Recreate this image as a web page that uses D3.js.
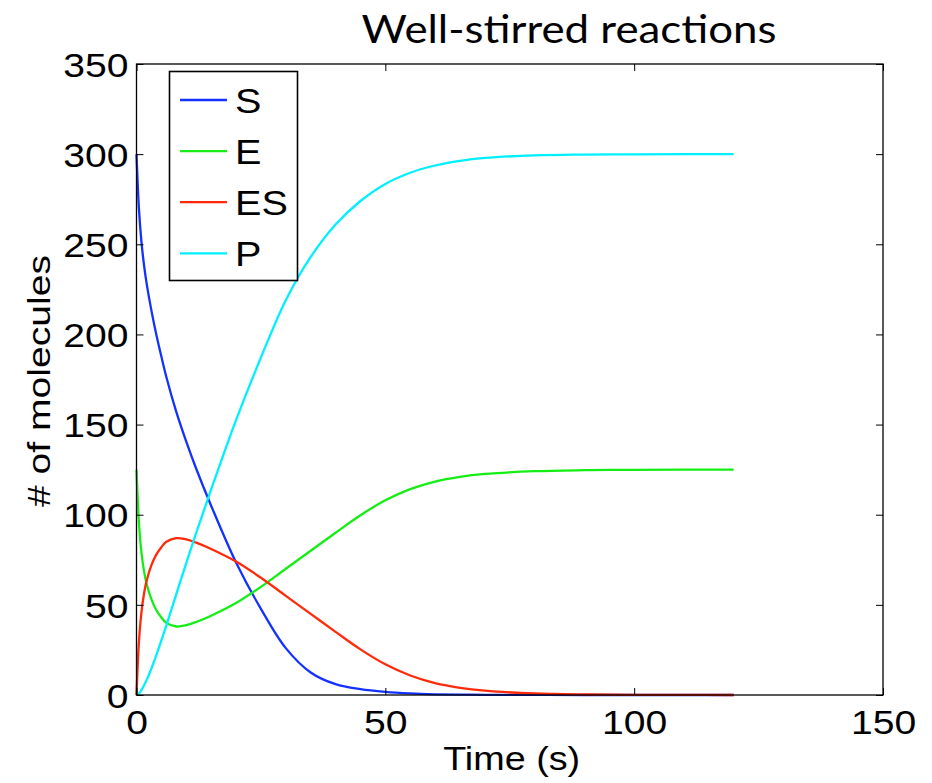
<!DOCTYPE html>
<html>
<head>
<meta charset="utf-8">
<script src="https://cdn.jsdelivr.net/npm/d3@7"></script>
<style>
  html, body { margin: 0; padding: 0; background: #fff; }
  svg { display: block; }
</style>
</head>
<body>
<svg id="chart" width="932" height="783"></svg>
<script>
// ---- data ----
const time = [0,0.5,1,1.5,2,3,4,5,6,8,10,12,15,20,25,30,35,40,45,50,55,60,65,70,80,90,100,110,120];
const sValues  = [300,269.2,251.2,238.7,228.9,213.2,199.7,187.7,176.4,157,140.5,125.5,105,73.5,47.8,26,12.5,6,3.2,1.7,0.85,0.4,0.2,0.1,0.03,0.01,0,0,0];
const eValues  = [125,95,79,69,62,53,47,43,40,38,38.7,40.5,44,51,60,70,80,90,99.7,108,114.2,118.4,121,122.6,124.15,124.7,124.9,124.96,124.99];
const esValues = [0,30,46,56,63,72,78,82,85,87,86.3,84.5,81,74,65,55,45,35,25.3,17,10.8,6.6,4,2.4,0.85,0.3,0.1,0.04,0.01];
const pValues  = [0,0.8,2.8,5.3,8.1,14.8,22.3,30.3,38.6,56,73.2,90,114,152.5,187.2,219,243,261,274,283.5,289.7,293.7,296.3,297.9,299.3,299.75,299.92,299.97,300];
const seriesNames = ["S","E","ES","P"];
const xTicks = [0,50,100,150];
const yTicks = [0,50,100,150,200,250,300,350];
const titleText = "Well-stirred reactions";
const xLabel = "Time (s)";
const yLabel = "# of molecules";

// ---- layout ----
const colors = {S:"#1432ff", E:"#14ee14", ES:"#ff2a0a", P:"#00f0ff"};
const series = [
  {name:"S", values:sValues},
  {name:"E", values:eValues},
  {name:"ES", values:esValues},
  {name:"P", values:pValues}
];
const pLeft = 136.5, pRight = 883, pTop = 64, pBottom = 695;
const svg = d3.select("#chart");
const x = d3.scaleLinear().domain([0,150]).range([pLeft,pRight]);
const y = d3.scaleLinear().domain([0,350]).range([pBottom,pTop]);
const font = "'Liberation Sans', Arial, Helvetica, sans-serif";
const sx = 1.15;

// curves
const line = d3.line()
  .x((d,i) => x(time[i]))
  .y(d => y(d))
  .curve(d3.curveCatmullRom.alpha(0.5));

const plot = svg.append("g");
series.forEach(s => {
  plot.append("path")
    .datum(s.values)
    .attr("d", line)
    .attr("fill","none")
    .attr("stroke", colors[s.name])
    .attr("stroke-width", 2.3)
    .attr("stroke-linejoin","round");
});

// axes (ticks inside, MATLAB style)
const gx = svg.append("g").attr("transform",`translate(0,${pBottom})`)
  .call(d3.axisBottom(x).tickValues(xTicks).tickSizeInner(-7).tickSizeOuter(0).tickPadding(15));
const gxt = svg.append("g").attr("transform",`translate(0,${pTop})`)
  .call(d3.axisTop(x).tickValues(xTicks).tickSizeInner(-7).tickSizeOuter(0).tickFormat(""));
const gy = svg.append("g").attr("transform",`translate(${pLeft},0)`)
  .call(d3.axisLeft(y).tickValues(yTicks).tickSizeInner(-7).tickSizeOuter(0).tickPadding(7));
const gyr = svg.append("g").attr("transform",`translate(${pRight},0)`)
  .call(d3.axisRight(y).tickValues(yTicks).tickSizeInner(-7).tickSizeOuter(0).tickFormat(""));

[gx,gxt,gy,gyr].forEach(g => {
  g.select(".domain").remove();
  g.selectAll(".tick line").attr("stroke","#000").attr("stroke-width",1);
  g.selectAll("text").attr("font-family", font).attr("font-size", 34).attr("fill","#000")
    .attr("transform", `scale(${sx},1)`);
});
gy.selectAll("text").attr("dy","0.36em");
gx.selectAll("text").attr("dy","0.71em");

// box
svg.append("rect")
  .attr("x", pLeft).attr("y", pTop)
  .attr("width", pRight-pLeft).attr("height", pBottom-pTop)
  .attr("fill","none").attr("stroke","#000").attr("stroke-width",1.3);

// title
svg.append("text")
  .attr("x", 569).attr("y", 43)
  .attr("text-anchor","middle")
  .attr("font-family","Lato, 'Open Sans', sans-serif")
  .attr("font-size", 38)
  .attr("textLength", 415).attr("lengthAdjust","spacingAndGlyphs")
  .text(titleText);

// x label
svg.append("text")
  .attr("x", 511.7).attr("y", 770)
  .attr("text-anchor","middle")
  .attr("font-family", font).attr("font-size", 33)
  .attr("textLength", 137).attr("lengthAdjust","spacingAndGlyphs")
  .text(xLabel);

// y label
svg.append("text")
  .attr("transform","translate(50,381) rotate(-90)")
  .attr("text-anchor","middle")
  .attr("font-family", font).attr("font-size", 31)
  .attr("textLength", 252).attr("lengthAdjust","spacingAndGlyphs")
  .text(yLabel);

// legend
const lg = svg.append("g");
lg.append("rect")
  .attr("x",169.5).attr("y",71.5).attr("width",128).attr("height",209)
  .attr("fill","#fff").attr("stroke","#000").attr("stroke-width",1.6);
const legendY = d3.scalePoint().domain(seriesNames).range([100,253.3]);
seriesNames.forEach(n => {
  const yy = legendY(n);
  lg.append("line").attr("x1",180).attr("x2",227).attr("y1",yy).attr("y2",yy)
    .attr("stroke",colors[n]).attr("stroke-width",2.3);
  lg.append("text")
    .attr("transform",`translate(235,${yy}) scale(1.1,1)`)
    .attr("dy","0.36em")
    .attr("font-family", font).attr("font-size", 36)
    .text(n);
});
</script>
</body>
</html>
